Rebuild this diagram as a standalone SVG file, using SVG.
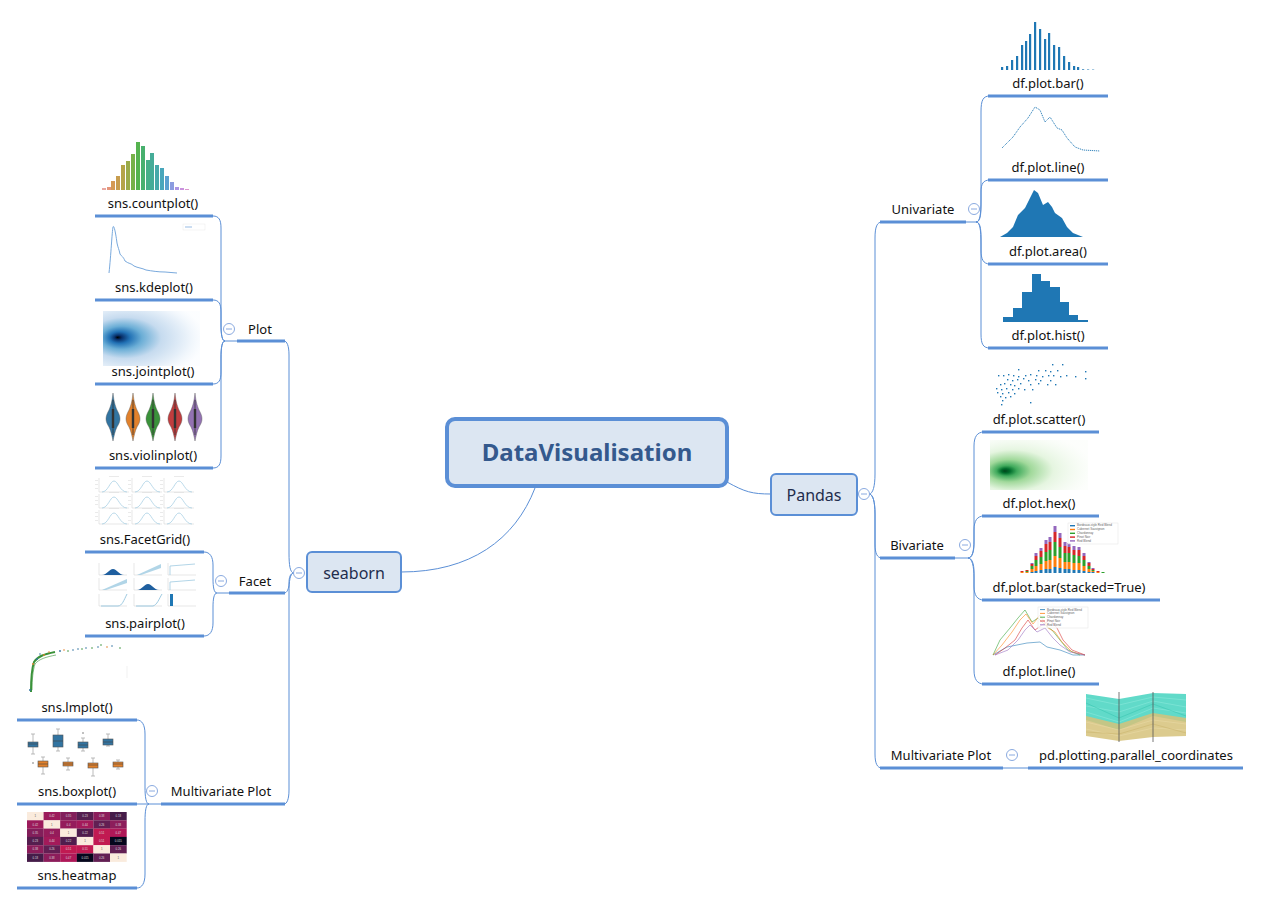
<svg xmlns="http://www.w3.org/2000/svg" xmlns:xlink="http://www.w3.org/1999/xlink" width="1261" height="905" viewBox="0 0 1261 905">
<style>
.conn{fill:none;stroke:#5b8fd6;stroke-width:1}
.ul{stroke:#5b8fd6;stroke-width:3;fill:none}
.lbl{font-family:"Noto Sans","DejaVu Sans",sans-serif;font-size:13px;fill:#111;text-anchor:middle}
.node{fill:#dce6f2;stroke:#5b8fd6;stroke-width:2}
.ntxt{font-family:"Noto Sans","DejaVu Sans",sans-serif;font-size:16px;fill:#1f2d4d;text-anchor:middle}
.col{fill:#fff;stroke:#8aaae0;stroke-width:1}
.minus{stroke:#8aaae0;stroke-width:1}
.b{fill:#1f77b4}
.tiny{font-family:"Liberation Sans",sans-serif;font-size:3px;fill:#666}
.hm{font-family:"Liberation Sans",sans-serif;font-size:2.8px;text-anchor:middle;fill:#ddd}
.bx{stroke:#555;stroke-width:0.6}
.wh{stroke:#aaa;stroke-width:0.8;fill:none}
</style>
<defs>
<linearGradient id="stk" x1="0" y1="1" x2="0" y2="0">
<stop offset="0" stop-color="#1f77b4"/><stop offset="0.12" stop-color="#1f77b4"/>
<stop offset="0.12" stop-color="#ff7f0e"/><stop offset="0.37" stop-color="#ff7f0e"/>
<stop offset="0.37" stop-color="#2ca02c"/><stop offset="0.65" stop-color="#2ca02c"/>
<stop offset="0.65" stop-color="#d62728"/><stop offset="0.87" stop-color="#d62728"/>
<stop offset="0.87" stop-color="#9467bd"/><stop offset="1" stop-color="#9467bd"/>
</linearGradient>
<radialGradient id="gcloud" cx="0.3" cy="0.6" r="0.75" fx="0.15" fy="0.62">
<stop offset="0" stop-color="#00441b"/><stop offset="0.06" stop-color="#006d2c"/><stop offset="0.14" stop-color="#41ab5d"/><stop offset="0.3" stop-color="#a1d99b"/><stop offset="0.55" stop-color="#e5f5e0"/><stop offset="1" stop-color="#f7fcf5" stop-opacity="0.3"/>
</radialGradient>
<radialGradient id="bcloud" cx="0.3" cy="0.5" r="0.75" fx="0.15" fy="0.48">
<stop offset="0" stop-color="#000"/><stop offset="0.05" stop-color="#08306b"/><stop offset="0.14" stop-color="#2171b5"/><stop offset="0.28" stop-color="#6baed6"/><stop offset="0.5" stop-color="#c6dbef"/><stop offset="0.8" stop-color="#eaf2fa"/><stop offset="1" stop-color="#f7fbff" stop-opacity="0.4"/>
</radialGradient>
<path id="vio" d="M0,393 C1,402 2,405 4,410 C8,417 8,421 4,427 C2,431 1,436 0,441 C-1,436 -2,431 -4,427 C-8,421 -8,417 -4,410 C-2,405 -1,402 0,393 Z"/>
<g id="fgp">
<path d="M0,0 V14 H30" stroke="#ccc" stroke-width="0.5" fill="none"/>
<path d="M3,14 C9,14 11,3 15,3 C19,3 21,14 28,14" stroke="#9ecae1" fill="none" stroke-width="0.7"/>
<rect x="-4" y="2" width="3" height="0.6" fill="#ddd"/><rect x="-4" y="6" width="3" height="0.6" fill="#ddd"/><rect x="-4" y="10" width="3" height="0.6" fill="#ddd"/>
<rect x="10" y="-2" width="10" height="0.6" fill="#ddd"/>
</g>
<path id="ppax" d="M0,0 V12 H28" stroke="#ccc" stroke-width="0.5" fill="none"/>
</defs>

<g id="connectors">
<path class="conn" d="M727,482 C745,492 752,494 771,494"/>
<path class="conn" d="M535,488 C515,540 470,572 401,572"/>
<path class="conn" d="M869,494 C873,494 875,486 875,474 L875,238 C875,227 877,222 882,222"/>
<path class="conn" d="M869,494 C873,494 875,502 875,514 L875,544 C875,553 877,558 882,558"/>
<path class="conn" d="M869,494 C873,494 875,502 875,514 L875,754 C875,763 877,768 882,768"/>
<path class="conn" d="M966,222 L976,222"/>
<path class="conn" d="M976,222 C980,222 981,214 981,200 L981,112 C981,100 983,96 990,96"/>
<path class="conn" d="M976,222 C980,222 981,216 981,205 L981,192 C981,184 983,180 990,180"/>
<path class="conn" d="M976,222 C980,222 981,228 981,238 L981,250 C981,259 983,264 990,264"/>
<path class="conn" d="M976,222 C980,222 981,230 981,244 L981,334 C981,344 983,348 990,348"/>
<path class="conn" d="M955,558 L968,558"/>
<path class="conn" d="M968,558 C972,558 974,552 974,540 L974,446 C974,437 977,432 984,432"/>
<path class="conn" d="M968,558 C972,558 974,552 974,544 L974,530 C974,521 977,516 984,516"/>
<path class="conn" d="M968,558 C972,558 974,564 974,572 L974,586 C974,595 977,600 984,600"/>
<path class="conn" d="M968,558 C972,558 974,566 974,578 L974,670 C974,679 977,684 984,684"/>
<path class="conn" d="M1003,768 L1028,768"/>
<path class="conn" d="M294,573 C290,573 289,565 289,553 L289,355 C289,346 287,341 284,341"/>
<path class="conn" d="M294,573 C290,573 289,578 289,583 C289,589 287,593 284,593"/>
<path class="conn" d="M294,573 C290,573 289,581 289,593 L289,790 C289,799 287,804 284,804"/>
<path class="conn" d="M237,341 L225,341"/>
<path class="conn" d="M225,341 C222,341 221,334 221,324 L221,228 C221,220 219,216 213,216"/>
<path class="conn" d="M225,341 C222,341 221,334 221,326 L221,312 C221,304 219,300 213,300"/>
<path class="conn" d="M225,341 C222,341 221,348 221,356 L221,372 C221,380 219,384 213,384"/>
<path class="conn" d="M225,341 C222,341 221,348 221,358 L221,456 C221,464 219,468 213,468"/>
<path class="conn" d="M229,593 L217,593"/>
<path class="conn" d="M217,593 C214,593 213,587 213,579 L213,565 C213,557 210,552 204,552"/>
<path class="conn" d="M217,593 C214,593 213,599 213,607 L213,623 C213,631 210,636 204,636"/>
<path class="conn" d="M161,804 L137,804"/>
<path class="conn" d="M149,804 C146,804 145,797 145,787 L145,734 C145,725 142,720 137,720"/>
<path class="conn" d="M149,804 C146,804 145,811 145,821 L145,874 C145,883 142,888 137,888"/>
</g>

<g id="root">
<rect x="447" y="419" width="280" height="67" rx="8" fill="#dce6f2" stroke="#5b8fd6" stroke-width="4"/>
<text x="587" y="461" font-family="Noto Sans, DejaVu Sans, sans-serif" font-size="24" font-weight="bold" fill="#34598d" text-anchor="middle">DataVisualisation</text>
</g>

<g id="pandas">
<rect class="node" x="771" y="474" width="86" height="41" rx="5"/>
<text class="ntxt" x="814" y="501">Pandas</text>
<circle class="col" cx="864" cy="494" r="5.5"/><line class="minus" x1="861" y1="494" x2="867" y2="494"/>
</g>

<g id="seaborn">
<rect class="node" x="307" y="552" width="94" height="40" rx="5"/>
<text class="ntxt" x="354" y="579">seaborn</text>
<circle class="col" cx="299" cy="573" r="5.5"/><line class="minus" x1="296" y1="573" x2="302" y2="573"/>
</g>

<g id="univariate">
<text class="lbl" x="923" y="214">Univariate</text>
<line class="ul" x1="880" y1="222" x2="966" y2="222"/>
<circle class="col" cx="974" cy="209" r="5.5"/><line class="minus" x1="971" y1="209" x2="977" y2="209"/>
</g>

<g id="df-plot-bar">
<g class="b">
<rect x="1001" y="67" width="2.2" height="3"/><rect x="1006" y="66" width="2.2" height="4"/><rect x="1011" y="60" width="2.2" height="10"/><rect x="1016" y="56" width="2.2" height="14"/><rect x="1021" y="45" width="2.2" height="25"/><rect x="1025" y="41" width="2.2" height="29"/><rect x="1029" y="34" width="2.2" height="36"/><rect x="1034" y="22" width="2.2" height="48"/><rect x="1039" y="29" width="2.2" height="41"/><rect x="1044" y="39" width="2.2" height="31"/><rect x="1048" y="33" width="2.2" height="37"/><rect x="1053" y="45" width="2.2" height="25"/><rect x="1058" y="47" width="2.2" height="23"/><rect x="1063" y="56" width="2.2" height="14"/><rect x="1068" y="62" width="2.2" height="8"/><rect x="1073" y="66" width="2.2" height="4"/><rect x="1077" y="67" width="2.2" height="3"/><rect x="1082" y="69" width="2.2" height="1" opacity="0.7"/><rect x="1087" y="69" width="2.2" height="1" opacity="0.5"/><rect x="1092" y="69" width="2.2" height="1" opacity="0.4"/>
</g>
<text class="lbl" x="1048" y="88">df.plot.bar()</text>
<line class="ul" x1="988" y1="96" x2="1108" y2="96"/>
</g>

<g id="df-plot-line">
<path d="M1002,148 L1013,137 L1020,127 L1028,118 L1035,107 L1040,110 L1045,122 L1050,117 L1057,128 L1062,130 L1067,138 L1075,147 L1083,150 L1100,151" fill="none" stroke="#1f77b4" stroke-width="0.9" stroke-dasharray="1.2 0.8"/>
<text class="lbl" x="1048" y="172">df.plot.line()</text>
<line class="ul" x1="988" y1="180" x2="1108" y2="180"/>
</g>

<g id="df-plot-area">
<path class="b" d="M1000,237 L1007,233 L1013,227 L1018,215 L1025,208 L1030,198 L1034,190 L1038,193 L1043,205 L1048,202 L1052,207 L1055,213 L1062,218 L1067,227 L1073,233 L1083,237 L1100,237 Z"/>
<text class="lbl" x="1048" y="256">df.plot.area()</text>
<line class="ul" x1="988" y1="264" x2="1108" y2="264"/>
</g>

<g id="df-plot-hist">
<path class="b" d="M1003,322 V317 H1013 V308 H1022 V292 H1032 V274 H1041 V281 H1050 V287 H1060 V302 H1069 V315 H1078 V320 H1088 V322 Z"/>
<text class="lbl" x="1048" y="340">df.plot.hist()</text>
<line class="ul" x1="988" y1="348" x2="1108" y2="348"/>
</g>

<g id="bivariate">
<text class="lbl" x="917" y="550">Bivariate</text>
<line class="ul" x1="880" y1="558" x2="955" y2="558"/>
<circle class="col" cx="965" cy="545" r="5.5"/><line class="minus" x1="962" y1="545" x2="968" y2="545"/>
</g>

<g id="df-plot-scatter">
<g class="b">
<rect x="1052" y="364" width="1.4" height="1.4"/><rect x="1062" y="364" width="1.4" height="1.4"/><rect x="1018" y="369" width="1.4" height="1.4"/><rect x="1038" y="370" width="1.4" height="1.4"/><rect x="1045" y="370" width="1.4" height="1.4"/><rect x="1050" y="371" width="1.4" height="1.4"/><rect x="1057" y="370" width="1.4" height="1.4"/><rect x="1085" y="371" width="1.4" height="1.4"/>
<rect x="998" y="375" width="1.4" height="1.4"/><rect x="1003" y="375" width="1.4" height="1.4"/><rect x="1008" y="374" width="1.4" height="1.4"/><rect x="1013" y="375" width="1.4" height="1.4"/><rect x="1018" y="376" width="1.4" height="1.4"/><rect x="1025" y="375" width="1.4" height="1.4"/><rect x="1030" y="374" width="1.4" height="1.4"/><rect x="1036" y="375" width="1.4" height="1.4"/><rect x="1042" y="376" width="1.4" height="1.4"/><rect x="1048" y="375" width="1.4" height="1.4"/><rect x="1053" y="375" width="1.4" height="1.4"/><rect x="1060" y="376" width="1.4" height="1.4"/><rect x="1066" y="375" width="1.4" height="1.4"/><rect x="1075" y="376" width="1.4" height="1.4"/><rect x="1085" y="378" width="1.4" height="1.4"/>
<rect x="1007" y="379" width="1.4" height="1.4"/><rect x="1012" y="380" width="1.4" height="1.4"/><rect x="1017" y="379" width="1.4" height="1.4"/><rect x="1023" y="378" width="1.4" height="1.4"/><rect x="1028" y="380" width="1.4" height="1.4"/><rect x="1035" y="379" width="1.4" height="1.4"/><rect x="1040" y="380" width="1.4" height="1.4"/><rect x="1050" y="380" width="1.4" height="1.4"/>
<rect x="1000" y="384" width="1.4" height="1.4"/><rect x="1004" y="383" width="1.4" height="1.4"/><rect x="1010" y="384" width="1.4" height="1.4"/><rect x="1014" y="385" width="1.4" height="1.4"/><rect x="1020" y="383" width="1.4" height="1.4"/><rect x="1030" y="384" width="1.4" height="1.4"/><rect x="1038" y="383" width="1.4" height="1.4"/><rect x="1047" y="384" width="1.4" height="1.4"/><rect x="1055" y="384" width="1.4" height="1.4"/>
<rect x="996" y="388" width="1.4" height="1.4"/><rect x="1001" y="389" width="1.4" height="1.4"/><rect x="1006" y="388" width="1.4" height="1.4"/><rect x="1012" y="389" width="1.4" height="1.4"/><rect x="1018" y="388" width="1.4" height="1.4"/><rect x="1024" y="389" width="1.4" height="1.4"/><rect x="1032" y="389" width="1.4" height="1.4"/>
<rect x="997" y="392" width="1.4" height="1.4"/><rect x="1002" y="393" width="1.4" height="1.4"/><rect x="1008" y="392" width="1.4" height="1.4"/><rect x="1014" y="393" width="1.4" height="1.4"/><rect x="1000" y="396" width="1.4" height="1.4"/><rect x="1005" y="397" width="1.4" height="1.4"/><rect x="1010" y="396" width="1.4" height="1.4"/><rect x="1002" y="400" width="1.4" height="1.4"/><rect x="1030" y="402" width="1.4" height="1.4"/><rect x="1001" y="404" width="1.4" height="1.4"/>
</g>
<text class="lbl" x="1039" y="424">df.plot.scatter()</text>
<line class="ul" x1="982" y1="432" x2="1099" y2="432"/>
</g>

<g id="df-plot-hex">
<rect x="990" y="440" width="98" height="50" fill="url(#gcloud)"/>
<text class="lbl" x="1039" y="508">df.plot.hex()</text>
<line class="ul" x1="982" y1="516" x2="1099" y2="516"/>
</g>

<g id="df-plot-bar-stacked">
<g fill="url(#stk)">
<rect x="1020.5" y="571" width="3" height="2"/><rect x="1025.5" y="570" width="3" height="3"/><rect x="1030.5" y="563" width="3" height="10"/><rect x="1034.5" y="553" width="3" height="20"/><rect x="1039.5" y="548" width="3" height="25"/><rect x="1044.5" y="540" width="3" height="33"/><rect x="1048.5" y="537" width="3" height="36"/><rect x="1053.5" y="526" width="3" height="47"/><rect x="1058.5" y="533" width="3" height="40"/><rect x="1063.5" y="542" width="3" height="31"/><rect x="1067.5" y="543" width="3" height="30"/><rect x="1072.5" y="546" width="3" height="27"/><rect x="1077.5" y="547" width="3" height="26"/><rect x="1082.5" y="553" width="3" height="20"/><rect x="1087.5" y="562" width="3" height="11"/><rect x="1091.5" y="568" width="3" height="5"/><rect x="1096.5" y="571" width="3" height="2"/><rect x="1101.5" y="572" width="3" height="1"/>
</g>
<rect x="1068" y="523" width="50" height="21" fill="#fff" fill-opacity="0.8" stroke="#ddd" stroke-width="0.4"/>
<rect x="1070" y="525" width="5" height="1.4" fill="#1f77b4"/><text class="tiny" x="1077" y="526.3">Bordeaux-style Red Blend</text>
<rect x="1070" y="528.8" width="5" height="1.4" fill="#ff7f0e"/><text class="tiny" x="1077" y="530.1">Cabernet Sauvignon</text>
<rect x="1070" y="532.6" width="5" height="1.4" fill="#2ca02c"/><text class="tiny" x="1077" y="533.9">Chardonnay</text>
<rect x="1070" y="536.4" width="5" height="1.4" fill="#d62728"/><text class="tiny" x="1077" y="537.7">Pinot Noir</text>
<rect x="1070" y="540.2" width="5" height="1.4" fill="#9467bd"/><text class="tiny" x="1077" y="541.5">Red Blend</text>
<text class="lbl" x="1069" y="592">df.plot.bar(stacked=True)</text>
<line class="ul" x1="982" y1="600" x2="1160" y2="600"/>
</g>

<g id="df-plot-line-bivariate" fill="none" stroke-width="0.8">
<polyline stroke="#1f77b4" opacity="0.7" points="993,655 1007,647 1027,643 1040,642 1047,647 1060,650 1073,655 1085,655"/>
<polyline stroke="#2ca02c" opacity="0.7" points="993,655 1000,640 1010,628 1018,618 1025,610 1032,622 1038,618 1045,625 1052,630 1060,640 1068,650 1080,655"/>
<polyline stroke="#ff7f0e" opacity="0.7" points="993,655 1002,645 1012,632 1020,620 1026,614 1033,624 1040,615 1048,628 1055,632 1062,642 1072,652 1085,655"/>
<polyline stroke="#d62728" opacity="0.7" points="995,655 1005,648 1015,640 1022,628 1028,620 1035,630 1042,625 1050,620 1057,628 1063,640 1072,650 1085,655"/>
<polyline stroke="#9467bd" opacity="0.7" points="995,655 1008,650 1018,640 1025,630 1030,625 1037,632 1045,628 1053,638 1060,645 1070,652 1085,655"/>
<rect x="1038" y="607" width="50" height="21" fill="#fff" fill-opacity="0.8" stroke="#ddd" stroke-width="0.4"/>
<line x1="1040" y1="609.6" x2="1045" y2="609.6" stroke="#1f77b4"/><text class="tiny" x="1047" y="610.6">Bordeaux-style Red Blend</text>
<line x1="1040" y1="613.4" x2="1045" y2="613.4" stroke="#ff7f0e"/><text class="tiny" x="1047" y="614.4">Cabernet Sauvignon</text>
<line x1="1040" y1="617.2" x2="1045" y2="617.2" stroke="#2ca02c"/><text class="tiny" x="1047" y="618.2">Chardonnay</text>
<line x1="1040" y1="621" x2="1045" y2="621" stroke="#d62728"/><text class="tiny" x="1047" y="622">Pinot Noir</text>
<line x1="1040" y1="624.8" x2="1045" y2="624.8" stroke="#9467bd"/><text class="tiny" x="1047" y="625.8">Red Blend</text>
<text class="lbl" x="1039" y="676">df.plot.line()</text>
<line class="ul" x1="982" y1="684" x2="1099" y2="684"/>
</g>

<g id="multivariate-right">
<text class="lbl" x="941" y="760">Multivariate Plot</text>
<line class="ul" x1="880" y1="768" x2="1003" y2="768"/>
<circle class="col" cx="1012" cy="755" r="5.5"/><line class="minus" x1="1009" y1="755" x2="1015" y2="755"/>
</g>

<g id="pd-plotting-parallel-coordinates">
<polygon points="1086,694 1119,699 1153,693 1186,694 1186,722 1153,716 1119,730 1086,720" fill="#45d4c0" opacity="0.85"/>
<polygon points="1086,716 1119,724 1153,713 1186,718 1186,736 1153,737 1119,741 1086,736" fill="#d6c27a" opacity="0.85"/>
<g fill="none" stroke-width="0.5" opacity="0.8">
<polyline stroke="#9ef0e4" points="1086,698 1119,705 1153,697 1186,700"/>
<polyline stroke="#9ef0e4" points="1086,706 1119,712 1153,701 1186,707"/>
<polyline stroke="#9ef0e4" points="1086,712 1119,722 1153,708 1186,713"/>
<polyline stroke="#2bbfa8" points="1086,703 1119,718 1153,704 1186,716"/>
<polyline stroke="#eee0b0" points="1086,722 1119,730 1153,720 1186,724"/>
<polyline stroke="#eee0b0" points="1086,729 1119,736 1153,728 1186,730"/>
<polyline stroke="#c4ad60" points="1086,732 1119,734 1153,724 1186,733"/>
</g>
<line x1="1119" y1="692" x2="1119" y2="742" stroke="#555" stroke-width="0.8"/>
<line x1="1153" y1="692" x2="1153" y2="742" stroke="#555" stroke-width="0.8"/>
<text class="lbl" x="1136" y="760">pd.plotting.parallel_coordinates</text>
<line class="ul" x1="1028" y1="768" x2="1243" y2="768"/>
</g>

<g id="plot">
<text class="lbl" x="260" y="334">Plot</text>
<line class="ul" x1="237" y1="341" x2="285" y2="341"/>
<circle class="col" cx="229" cy="329" r="5.5"/><line class="minus" x1="226" y1="329" x2="232" y2="329"/>
</g>

<g id="sns-countplot">
<rect x="102" y="188" width="4" height="2" fill="#e8a7a0"/><rect x="107" y="187" width="4" height="3" fill="#e5967a"/><rect x="111" y="181" width="4" height="9" fill="#d59a55"/><rect x="116" y="176" width="4" height="14" fill="#c79d4f"/><rect x="121" y="165" width="4" height="25" fill="#b4a448"/><rect x="126" y="161" width="4" height="29" fill="#9aab48"/><rect x="131" y="154" width="4" height="36" fill="#77b14a"/><rect x="136" y="142" width="4" height="48" fill="#55b34f"/><rect x="141" y="146" width="4" height="44" fill="#48b06e"/><rect x="146" y="160" width="4" height="30" fill="#46ae87"/><rect x="150" y="153" width="4" height="37" fill="#45ac98"/><rect x="155" y="165" width="4" height="25" fill="#46a9aa"/><rect x="160" y="168" width="4" height="22" fill="#48a6bb"/><rect x="165" y="176" width="4" height="14" fill="#5aa0d0"/><rect x="170" y="182" width="4" height="8" fill="#8b9ce0"/><rect x="175" y="187" width="4" height="3" fill="#ac95e3"/><rect x="180" y="188" width="4" height="2" fill="#c993dd"/><rect x="185" y="189" width="4" height="1" fill="#dc96cf"/>
<text class="lbl" x="153" y="208">sns.countplot()</text>
<line class="ul" x1="95" y1="216" x2="213" y2="216"/>
</g>

<g id="sns-kdeplot">
<path d="M109,273 C111,255 112,232 113,227 C114,224 116,235 117,243 C118,248 119,249 120,254 C122,257 123,256 125,261 C129,264 131,263 134,266 C138,268 142,268 146,270 C152,271 158,272 165,272 L177,273" fill="none" stroke="#6a9fd8" stroke-width="0.9"/>
<rect x="183" y="224" width="22" height="6" fill="#fff" stroke="#e4e4e4" stroke-width="0.4"/>
<line x1="185" y1="227" x2="192" y2="227" stroke="#6a9fd8" stroke-width="0.7"/>
<text class="lbl" x="154" y="292">sns.kdeplot()</text>
<line class="ul" x1="95" y1="300" x2="213" y2="300"/>
</g>

<g id="sns-jointplot">
<rect x="103" y="311" width="97" height="55" fill="url(#bcloud)"/>
<text class="lbl" x="153" y="376">sns.jointplot()</text>
<line class="ul" x1="95" y1="384" x2="213" y2="384"/>
</g>

<g id="sns-violinplot">
<g stroke="#555" stroke-width="0.4">
<use xlink:href="#vio" x="113" fill="#3274a1"/>
<use xlink:href="#vio" x="133" fill="#e1812c"/>
<use xlink:href="#vio" x="153" fill="#3a923a"/>
<use xlink:href="#vio" x="175" fill="#c03d3e"/>
<use xlink:href="#vio" x="195" fill="#9372b2"/>
</g>
<g stroke="#333" stroke-width="0.8">
<line x1="113" y1="400" x2="113" y2="435"/><line x1="133" y1="400" x2="133" y2="435"/><line x1="153" y1="400" x2="153" y2="435"/><line x1="175" y1="400" x2="175" y2="435"/><line x1="195" y1="400" x2="195" y2="435"/>
</g>
<g fill="#333">
<rect x="111.8" y="409" width="2.4" height="19"/><rect x="131.8" y="409" width="2.4" height="19"/><rect x="151.8" y="409" width="2.4" height="19"/><rect x="173.8" y="409" width="2.4" height="19"/><rect x="193.8" y="409" width="2.4" height="19"/>
</g>
<text class="lbl" x="153" y="460">sns.violinplot()</text>
<line class="ul" x1="95" y1="468" x2="213" y2="468"/>
</g>

<g id="facet">
<text class="lbl" x="255" y="586">Facet</text>
<line class="ul" x1="229" y1="593" x2="285" y2="593"/>
<circle class="col" cx="221" cy="581" r="5.5"/><line class="minus" x1="218" y1="581" x2="224" y2="581"/>
</g>

<g id="sns-facetgrid">
<use xlink:href="#fgp" x="99" y="478"/><use xlink:href="#fgp" x="132" y="478"/><use xlink:href="#fgp" x="164" y="478"/>
<use xlink:href="#fgp" x="99" y="494"/><use xlink:href="#fgp" x="132" y="494"/><use xlink:href="#fgp" x="164" y="494"/>
<use xlink:href="#fgp" x="99" y="510"/><use xlink:href="#fgp" x="132" y="510"/><use xlink:href="#fgp" x="164" y="510"/>
<text class="lbl" x="145" y="544">sns.FacetGrid()</text>
<line class="ul" x1="85" y1="552" x2="204" y2="552"/>
</g>

<g id="sns-pairplot">
<use xlink:href="#ppax" x="99" y="563"/><use xlink:href="#ppax" x="134" y="563"/><use xlink:href="#ppax" x="168" y="563"/>
<use xlink:href="#ppax" x="99" y="578"/><use xlink:href="#ppax" x="134" y="578"/><use xlink:href="#ppax" x="168" y="578"/>
<use xlink:href="#ppax" x="99" y="594"/><use xlink:href="#ppax" x="134" y="594"/><use xlink:href="#ppax" x="168" y="594"/>
<path d="M102,575 C107,575 109,569 113,569 C117,569 119,575 124,575 Z" fill="#1f5f9f"/>
<polygon points="137,575 161,564 161,568 141,575" fill="#9ecae1" opacity="0.8"/>
<path d="M170,575 L170,566 L195,564" fill="none" stroke="#9ecae1" stroke-width="0.8"/>
<polygon points="102,590 127,579 127,583 106,590" fill="#9ecae1" opacity="0.8"/>
<path d="M137,590 C142,590 144,584 148,584 C152,584 154,590 159,590 Z" fill="#1f5f9f"/>
<path d="M170,590 L170,582 L195,580" fill="none" stroke="#9ecae1" stroke-width="0.8"/>
<path d="M101,606 L118,606 C122,606 124,600 127,594" fill="none" stroke="#9ecae1" stroke-width="1"/>
<path d="M136,606 L153,606 C157,605 159,599 162,594" fill="none" stroke="#9ecae1" stroke-width="1"/>
<rect x="170" y="594" width="3" height="12" fill="#1f77b4"/>
<text class="lbl" x="145" y="628">sns.pairplot()</text>
<line class="ul" x1="85" y1="636" x2="204" y2="636"/>
</g>

<g id="multivariate-left">
<text class="lbl" x="221" y="796">Multivariate Plot</text>
<line class="ul" x1="161" y1="804" x2="285" y2="804"/>
<circle class="col" cx="152" cy="791" r="5.5"/><line class="minus" x1="149" y1="791" x2="155" y2="791"/>
</g>

<g id="sns-lmplot">
<path d="M31,692 C31,680 32,668 34,662 C38,656 45,654 55,652" fill="none" stroke="#3a923a" stroke-width="2"/>
<path d="M32,690 C32,680 33,670 35,664 C39,659 46,657 56,655" fill="none" stroke="#3a923a" stroke-width="1" opacity="0.6"/>
<circle cx="30" cy="690" r="1" fill="#3274a1"/><circle cx="33" cy="664" r="0.9" fill="#e1812c"/><circle cx="37" cy="659" r="0.9" fill="#3274a1"/><circle cx="44" cy="655" r="0.9" fill="#e1812c"/><circle cx="40" cy="654" r="0.8" fill="#3274a1"/><circle cx="49" cy="652" r="0.8" fill="#e1812c"/>
<circle cx="60" cy="651" r="0.9" fill="#3274a1"/><circle cx="64" cy="650" r="0.8" fill="#e1812c"/><circle cx="68" cy="651" r="0.8" fill="#3a923a"/><circle cx="73" cy="650" r="0.8" fill="#3274a1"/><circle cx="78" cy="649" r="0.8" fill="#3274a1"/><circle cx="82" cy="649" r="0.8" fill="#3a923a"/><circle cx="86" cy="648" r="0.8" fill="#3274a1"/><circle cx="92" cy="648" r="0.8" fill="#3a923a"/><circle cx="98" cy="647" r="0.8" fill="#3274a1"/><circle cx="101" cy="645" r="0.8" fill="#3a923a"/><circle cx="107" cy="647" r="0.8" fill="#e1812c"/><circle cx="112" cy="646" r="0.8" fill="#3274a1"/><circle cx="120" cy="648" r="0.8" fill="#3a923a"/>
<line x1="127" y1="666" x2="127" y2="678" stroke="#e8e8e8" stroke-width="0.6"/>
<text class="lbl" x="77" y="712">sns.lmplot()</text>
<line class="ul" x1="17" y1="720" x2="137" y2="720"/>
</g>

<g id="sns-boxplot">
<g class="wh">
<line x1="33" y1="734" x2="33" y2="754"/><line x1="58" y1="729" x2="58" y2="751"/><line x1="83" y1="738" x2="83" y2="751"/><line x1="108" y1="734" x2="108" y2="746"/>
<line x1="43" y1="757" x2="43" y2="774"/><line x1="68" y1="758" x2="68" y2="770"/><line x1="93" y1="758" x2="93" y2="776"/><line x1="118" y1="760" x2="118" y2="769"/>
<line x1="31" y1="734" x2="35" y2="734"/><line x1="31" y1="754" x2="35" y2="754"/><line x1="56" y1="729" x2="60" y2="729"/><line x1="56" y1="751" x2="60" y2="751"/><line x1="81" y1="738" x2="85" y2="738"/><line x1="81" y1="751" x2="85" y2="751"/><line x1="106" y1="734" x2="110" y2="734"/><line x1="106" y1="746" x2="110" y2="746"/>
<line x1="41" y1="757" x2="45" y2="757"/><line x1="41" y1="774" x2="45" y2="774"/><line x1="66" y1="758" x2="70" y2="758"/><line x1="66" y1="770" x2="70" y2="770"/><line x1="91" y1="758" x2="95" y2="758"/><line x1="91" y1="776" x2="95" y2="776"/><line x1="116" y1="760" x2="120" y2="760"/><line x1="116" y1="769" x2="120" y2="769"/>
</g>
<g class="bx" fill="#3274a1">
<rect x="28" y="742" width="10" height="5"/><rect x="53" y="735" width="10" height="12"/><rect x="78" y="742" width="10" height="6"/><rect x="103" y="739" width="10" height="6"/>
</g>
<g class="bx" fill="#e1812c">
<rect x="38" y="761" width="10" height="6"/><rect x="63" y="762" width="10" height="4"/><rect x="88" y="763" width="10" height="5"/><rect x="113" y="762" width="10" height="5"/>
</g>
<g stroke="#444" stroke-width="0.6">
<line x1="28" y1="744" x2="38" y2="744"/><line x1="53" y1="741" x2="63" y2="741"/><line x1="78" y1="745" x2="88" y2="745"/><line x1="103" y1="742" x2="113" y2="742"/>
<line x1="38" y1="764" x2="48" y2="764"/><line x1="63" y1="764" x2="73" y2="764"/><line x1="88" y1="765" x2="98" y2="765"/><line x1="113" y1="764" x2="123" y2="764"/>
</g>
<circle cx="83" cy="733" r="0.7" fill="#555"/><circle cx="33" cy="763" r="0.7" fill="#555"/>
<text class="lbl" x="77" y="796">sns.boxplot()</text>
<line class="ul" x1="17" y1="804" x2="137" y2="804"/>
</g>

<g id="sns-heatmap">
<g transform="translate(27,812)">
<rect x="0" y="0" width="16.7" height="8.4" fill="#faebdd"/><rect x="16.6" y="0" width="16.7" height="8.4" fill="#9c1b5b"/><rect x="33.2" y="0" width="16.7" height="8.4" fill="#821e5a"/><rect x="49.8" y="0" width="16.7" height="8.4" fill="#551e4f"/><rect x="66.4" y="0" width="16.7" height="8.4" fill="#8c1d5b"/><rect x="83" y="0" width="16.7" height="8.4" fill="#451c49"/>
<rect x="0" y="8.3" width="16.7" height="8.4" fill="#9c1b5b"/><rect x="16.6" y="8.3" width="16.7" height="8.4" fill="#faebdd"/><rect x="33.2" y="8.3" width="16.7" height="8.4" fill="#951c5b"/><rect x="49.8" y="8.3" width="16.7" height="8.4" fill="#a31a5a"/><rect x="66.4" y="8.3" width="16.7" height="8.4" fill="#621f53"/><rect x="83" y="8.3" width="16.7" height="8.4" fill="#8c1d5b"/>
<rect x="0" y="16.6" width="16.7" height="8.4" fill="#821e5a"/><rect x="16.6" y="16.6" width="16.7" height="8.4" fill="#951c5b"/><rect x="33.2" y="16.6" width="16.7" height="8.4" fill="#faebdd"/><rect x="49.8" y="16.6" width="16.7" height="8.4" fill="#501d4d"/><rect x="66.4" y="16.6" width="16.7" height="8.4" fill="#c11a52"/><rect x="83" y="16.6" width="16.7" height="8.4" fill="#af1858"/>
<rect x="0" y="24.9" width="16.7" height="8.4" fill="#551e4f"/><rect x="16.6" y="24.9" width="16.7" height="8.4" fill="#a31a5a"/><rect x="33.2" y="24.9" width="16.7" height="8.4" fill="#501d4d"/><rect x="49.8" y="24.9" width="16.7" height="8.4" fill="#faebdd"/><rect x="66.4" y="24.9" width="16.7" height="8.4" fill="#c11a52"/><rect x="83" y="24.9" width="16.7" height="8.4" fill="#05061c"/>
<rect x="0" y="33.2" width="16.7" height="8.4" fill="#8c1d5b"/><rect x="16.6" y="33.2" width="16.7" height="8.4" fill="#621f53"/><rect x="33.2" y="33.2" width="16.7" height="8.4" fill="#c11a52"/><rect x="49.8" y="33.2" width="16.7" height="8.4" fill="#c11a52"/><rect x="66.4" y="33.2" width="16.7" height="8.4" fill="#faebdd"/><rect x="83" y="33.2" width="16.7" height="8.4" fill="#621f53"/>
<rect x="0" y="41.5" width="16.7" height="8.4" fill="#451c49"/><rect x="16.6" y="41.5" width="16.7" height="8.4" fill="#8c1d5b"/><rect x="33.2" y="41.5" width="16.7" height="8.4" fill="#af1858"/><rect x="49.8" y="41.5" width="16.7" height="8.4" fill="#05061c"/><rect x="66.4" y="41.5" width="16.7" height="8.4" fill="#621f53"/><rect x="83" y="41.5" width="16.7" height="8.4" fill="#faebdd"/>
<g class="hm">
<text x="8.3" y="5.2" fill="#555">1</text><text x="24.9" y="5.2">0.42</text><text x="41.5" y="5.2">0.35</text><text x="58.1" y="5.2">0.23</text><text x="74.7" y="5.2">0.38</text><text x="91.3" y="5.2">0.18</text>
<text x="8.3" y="13.5">0.42</text><text x="24.9" y="13.5" fill="#555">1</text><text x="41.5" y="13.5">0.4</text><text x="58.1" y="13.5">0.44</text><text x="74.7" y="13.5">0.26</text><text x="91.3" y="13.5">0.38</text>
<text x="8.3" y="21.8">0.35</text><text x="24.9" y="21.8">0.4</text><text x="41.5" y="21.8" fill="#555">1</text><text x="58.1" y="21.8">0.22</text><text x="74.7" y="21.8">0.51</text><text x="91.3" y="21.8">0.47</text>
<text x="8.3" y="30.1">0.23</text><text x="24.9" y="30.1">0.44</text><text x="41.5" y="30.1">0.22</text><text x="58.1" y="30.1" fill="#555">1</text><text x="74.7" y="30.1">0.51</text><text x="91.3" y="30.1">0.015</text>
<text x="8.3" y="38.4">0.38</text><text x="24.9" y="38.4">0.26</text><text x="41.5" y="38.4">0.51</text><text x="58.1" y="38.4">0.51</text><text x="74.7" y="38.4" fill="#555">1</text><text x="91.3" y="38.4">0.26</text>
<text x="8.3" y="46.7">0.18</text><text x="24.9" y="46.7">0.38</text><text x="41.5" y="46.7">0.47</text><text x="58.1" y="46.7">0.015</text><text x="74.7" y="46.7">0.26</text><text x="91.3" y="46.7" fill="#555">1</text>
</g>
</g>
<text class="lbl" x="77" y="880">sns.heatmap</text>
<line class="ul" x1="17" y1="888" x2="137" y2="888"/>
</g>
</svg>
